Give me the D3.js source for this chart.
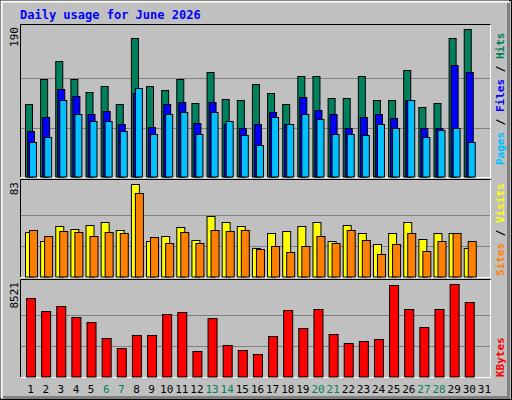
<!DOCTYPE html>
<html><head><meta charset="utf-8">
<script src="https://cdn.jsdelivr.net/npm/d3@7"></script>
<style>body{margin:0;background:#fff}</style>
</head><body>
<script>
// values, days 1..31
var days = d3.range(1,32);
var weekend = [6,7,13,14,20,21,27,28];
var hits  = [94,126,149,125,109,116,94,178,116,112,126,95,135,100,98,119,107,94,130,130,101,101,130,99,99,137,89,95,178,190,0];
var files = [59,77,113,104,80,85,68,108,64,94,96,69,96,67,62,68,83,68,103,86,81,63,77,80,76,99,63,62,143,135,0];
var pages = [44,51,99,81,71,72,58,114,55,80,83,55,83,72,54,41,77,67,81,74,55,55,53,67,63,99,51,60,62,44,0];
var visits= [40,32,45,43,46,49,42,83,32,36,44,33,54,49,45,26,39,41,45,49,32,46,39,29,39,49,34,39,39,26,0];
var sites = [42,36,41,40,36,40,39,75,35,30,40,30,42,41,42,25,27,22,27,36,30,42,33,20,29,39,23,32,39,32,0];
var kbytes= [7215,6002,6469,5442,4976,3577,2643,3856,3856,5722,5909,2364,5349,2923,2457,2084,3763,6096,4509,6189,3950,3110,3297,3483,8428,6189,4603,6189,8521,6842,0];

var W=512,H=400, L=21, R=490;
var svg = d3.select("body").append("svg").attr("width",W).attr("height",H)
  .style("font-family","'DejaVu Sans Mono',monospace");

svg.append("rect").attr("width",W).attr("height",H).attr("fill","#c0c0c0");
svg.append("path").attr("d","M0.5 399.5 V0.5 H511.5").attr("fill","none").attr("stroke","#000");
svg.append("path").attr("d","M1.5 398 V1.5 H509").attr("fill","none").attr("stroke","#fff").attr("stroke-width",2);
svg.append("path").attr("d","M3 397.5 H508.5 V3").attr("fill","none").attr("stroke","#808080").attr("stroke-width",3);
svg.append("path").attr("d","M0.5 399.5 H511.5 V0.5").attr("fill","none").attr("stroke","#000");

svg.append("text").attr("x",20).attr("y",19).attr("fill","#0000ff")
  .style("font-size","12px").style("font-weight","bold").text("Daily usage for June 2026");

var x = d3.scaleBand().domain(days).range([L,R]);

var panels = [
  {top:25, bot:177, max:190},
  {top:180, bot:277, max:83},
  {top:280, bot:377, max:8521}
];
panels.forEach(function(p){
  p.y = d3.scaleLinear().domain([0,p.max]).range([p.bot-0.5,p.top+4]);
  svg.append("rect").attr("x",L).attr("y",p.top).attr("width",R-L).attr("height",p.bot-p.top)
    .attr("fill","#c0c0c0");
  [1/3,2/3].forEach(function(f){
    var yy = Math.round(p.bot-(p.bot-p.top-4)*f)+0.5;
    svg.append("line").attr("x1",L).attr("x2",R).attr("y1",yy).attr("y2",yy).attr("stroke","#808080");
  });
  svg.append("path").attr("d","M"+(L-0.5)+" "+p.bot+" V"+(p.top-0.5)+" H"+(R+0.5))
    .attr("fill","none").attr("stroke","#000");
  svg.append("path").attr("d","M"+(L-0.5)+" "+(p.bot+0.5)+" H"+(R+0.5)+" V"+p.top)
    .attr("fill","none").attr("stroke","#fff");
  svg.append("text").attr("transform","translate(18,"+(p.top+2)+") rotate(-90)")
    .attr("text-anchor","end").style("font-size","11px").text(p.max);
});

function bars(data,p,off,w,color){
  svg.append("g").selectAll("rect").data(days.filter(function(d){return data[d-1]>0;}))
    .join("rect")
    .attr("x",function(d){return x(d)+off+0.5;})
    .attr("y",function(d){return Math.round(p.y(data[d-1]))+0.5;})
    .attr("width",w)
    .attr("height",function(d){return p.bot-0.5-Math.round(p.y(data[d-1]));})
    .attr("fill",color).attr("stroke","#000");
}
bars(hits,panels[0],4,7,"#00805c");
bars(files,panels[0],6,7,"#0000ff");
bars(pages,panels[0],8,7,"#00c0ff");
bars(visits,panels[1],4,8,"#ffff00");
bars(sites,panels[1],8,8,"#ff8000");
bars(kbytes,panels[2],5,9,"#ff0000");

svg.append("g").selectAll("text").data(days).join("text")
  .attr("x",function(d){return x(d)+x.bandwidth()/2+2;}).attr("y",393)
  .attr("text-anchor","middle").style("font-size","11px")
  .attr("fill",function(d){return weekend.indexOf(d)>=0?"#00805c":"#000";})
  .text(function(d){return d;});

function sideLabel(yBase, parts){
  var t = svg.append("text").attr("transform","translate(504,"+yBase+") rotate(-90)")
    .style("font-size","11px").style("font-weight","bold");
  parts.forEach(function(p){ t.append("tspan").attr("fill",p[1]).text(p[0]); });
}
sideLabel(165,[["Pages","#00c0ff"],[" / ","#000"],["Files","#0000ff"],[" / ","#000"],["Hits","#00805c"]]);
sideLabel(276,[["Sites","#ff8000"],[" / ","#000"],["Visits","#ffff00"]]);
sideLabel(377,[["KBytes","#ff0000"]]);
</script>
</body></html>
